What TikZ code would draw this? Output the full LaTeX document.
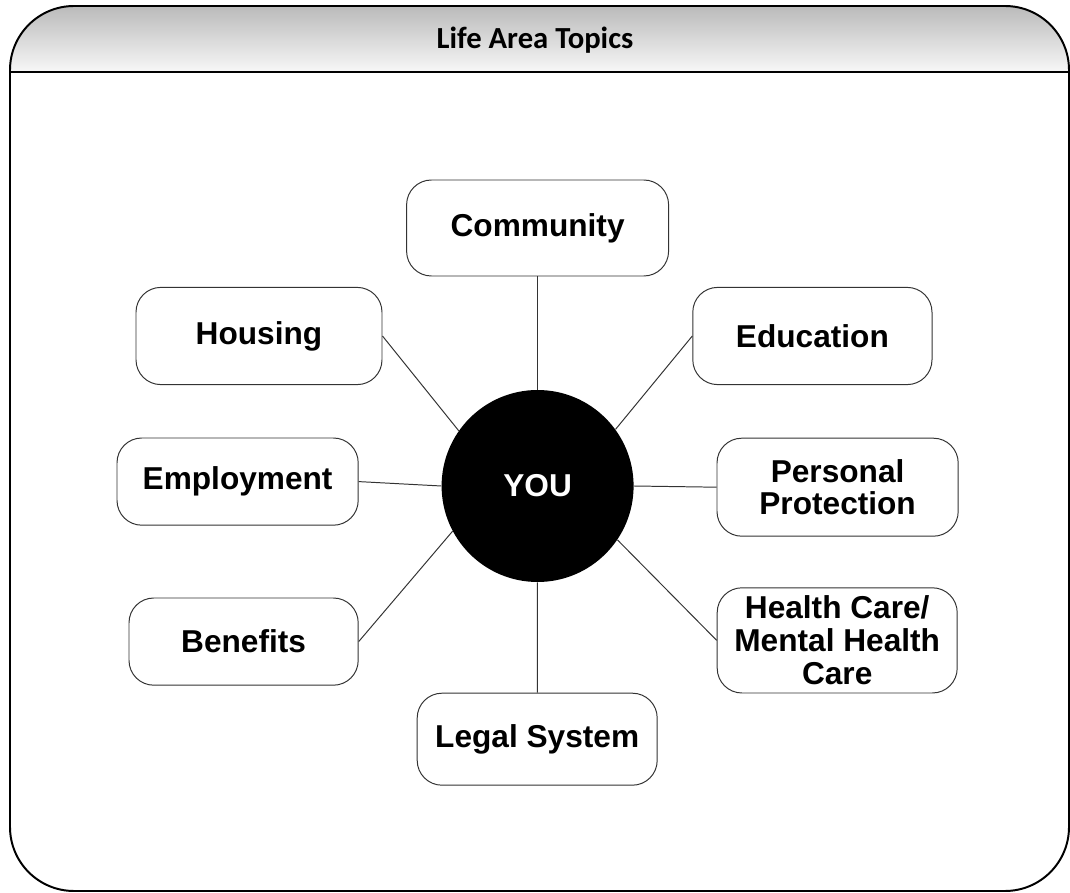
\documentclass[tikz,border=0pt]{standalone}
\usepackage{fontspec}
\setmainfont{Liberation Sans}
\newfontfamily\titlefont{Carlito}
\usetikzlibrary{positioning}

\tikzset{
    topic/.style={draw=black!80, line width=0.7pt, rounded corners=0.62cm,
                  align=center, inner sep=0pt,
                  font=\fontsize{22.5}{23.3}\selectfont\bfseries},
    spoke/.style={draw=black!80, line width=0.7pt}
}

\begin{document}
\begin{tikzpicture}
    \useasboundingbox (0,0) rectangle (26.75,-22.325);
    % frame with shaded header
    \begin{scope}
        \clip[rounded corners=1.6cm] (0.25,-0.15) rectangle (26.725,-22.275);
        \shade[top color=black!27, bottom color=black!3] (0.25,-0.15) rectangle (26.725,-1.8);
    \end{scope}
    \draw[line width=1.4pt, rounded corners=1.6cm] (0.25,-0.15) rectangle (26.725,-22.275);
    \draw[line width=1.4pt] (0.25,-1.8) -- (26.725,-1.8);
    \node[font=\titlefont\fontsize{21.8}{24}\selectfont\bfseries] (title) at (13.375,-1.0) {Life Area Topics};

    % centre
    \node[circle, fill=black, minimum size=4.8cm, text=white,
          font=\fontsize{22.5}{24}\selectfont\bfseries] (you) at (13.44,-12.15) {YOU};

    % topics
    \node[topic, minimum width=6.55cm, minimum height=2.4cm] (community) at (13.44,-5.7) {Community};
    \node[topic, minimum width=6.15cm, minimum height=2.43cm] (housing) at (6.475,-8.4) {Housing};
    \node[topic, minimum width=5.98cm, minimum height=2.43cm] (education) at (20.31,-8.4) {Education};
    \node[topic, minimum width=6.03cm, minimum height=2.18cm] (employment) at (5.94,-12.04) {Employment};
    \node[topic, minimum width=6.03cm, minimum height=2.45cm] (protection) at (20.94,-12.18) {Personal\\ Protection};
    \node[topic, minimum width=5.73cm, minimum height=2.18cm] (benefits) at (6.09,-16.04) {Benefits};
    \node[topic, minimum width=6.0cm, minimum height=2.63cm] (health) at (20.93,-16.01) {Health Care/\\ Mental Health\\ Care};
    \node[topic, minimum width=6.0cm, minimum height=2.3cm] (legal) at (13.43,-18.48) {Legal System};

    % spokes
    \draw[spoke] (community) -- (you);
    \draw[spoke] (housing.east) -- (you.145);
    \draw[spoke] (education.west) -- (you.36);
    \draw[spoke] (employment.east) -- (you.180);
    \draw[spoke] (protection.west) -- (you.0);
    \draw[spoke] (benefits.east) -- (you.208);
    \draw[spoke] (health.west) -- (you.326);
    \draw[spoke] (legal) -- (you);
\end{tikzpicture}
\end{document}
